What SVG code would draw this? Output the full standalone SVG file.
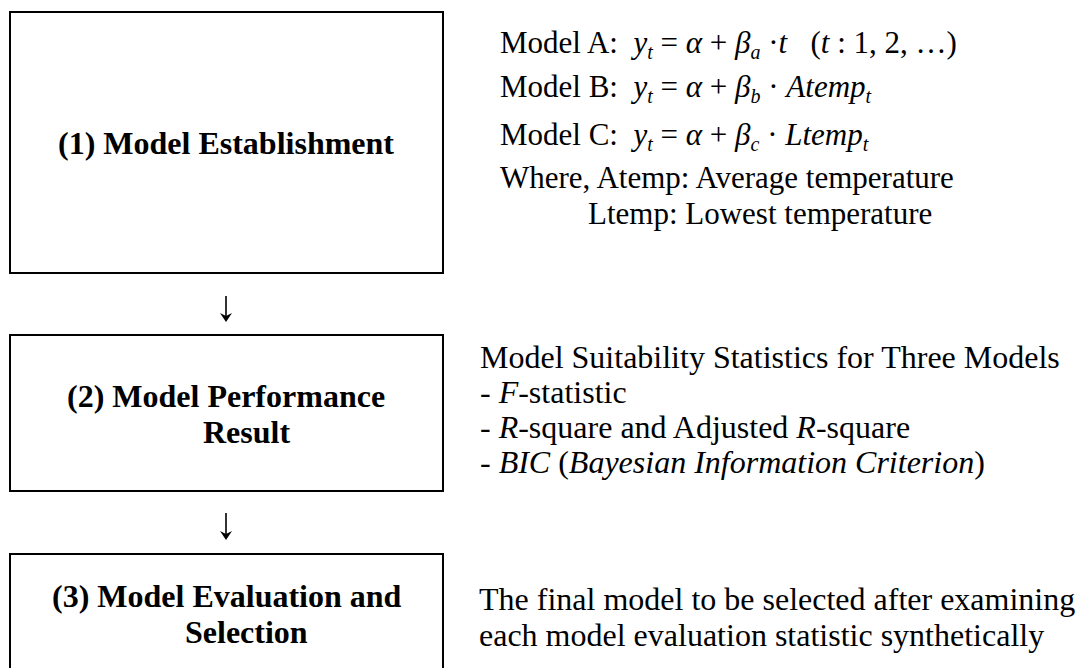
<svg xmlns="http://www.w3.org/2000/svg" width="1077" height="668" viewBox="0 0 1077 668">
<style>
.box{fill:#fff;stroke:#000;stroke-width:2}
.title{font-family:"Liberation Serif","Times New Roman",serif;font-size:32px;font-weight:bold;fill:#000}
.txt{font-family:"Liberation Serif","Times New Roman",serif;font-size:31px;fill:#000;white-space:pre}
.txt2{font-family:"Liberation Serif","Times New Roman",serif;font-size:32px;fill:#000;white-space:pre}
.i{font-style:italic}
.sub{font-style:italic;font-size:20px}
.conn{stroke:#000;stroke-width:1.6;fill:none}
.head{fill:#000;stroke:none}
</style>
<rect width="1077" height="668" fill="#fff"/>
<g id="node1">
<rect class="box" x="10" y="12" width="433" height="261"/>
<text class="title" x="58" y="154">(1) Model Establishment</text>
</g>
<g id="node2">
<rect class="box" x="10" y="335" width="433" height="156"/>
<text class="title" x="67" y="407">(2) Model Performance</text>
<text class="title" x="203" y="443">Result</text>
</g>
<g id="node3">
<rect class="box" x="10" y="554" width="433" height="140"/>
<text class="title" x="52" y="607">(3) Model Evaluation and</text>
<text class="title" x="185" y="643">Selection</text>
</g>
<g id="notes1">
<text class="txt" x="500" y="53">Model A:  <tspan class="i">y</tspan><tspan class="sub" dy="6">t</tspan><tspan dy="-6"> = </tspan><tspan class="i">α</tspan> + <tspan class="i">β</tspan><tspan class="sub" dy="6">a</tspan><tspan dy="-6"> ·</tspan><tspan class="i">t</tspan>   (<tspan class="i">t</tspan> : 1, 2, …)</text>
<text class="txt" x="500" y="97">Model B:  <tspan class="i">y</tspan><tspan class="sub" dy="6">t</tspan><tspan dy="-6"> = </tspan><tspan class="i">α</tspan> + <tspan class="i">β</tspan><tspan class="sub" dy="6">b</tspan><tspan dy="-6"> · </tspan><tspan class="i">Atemp</tspan><tspan class="sub" dy="6">t</tspan></text>
<text class="txt" x="500" y="145">Model C:  <tspan class="i">y</tspan><tspan class="sub" dy="6">t</tspan><tspan dy="-6"> = </tspan><tspan class="i">α</tspan> + <tspan class="i">β</tspan><tspan class="sub" dy="6">c</tspan><tspan dy="-6"> · </tspan><tspan class="i">Ltemp</tspan><tspan class="sub" dy="6">t</tspan></text>
<text class="txt" x="500" y="188">Where, Atemp: Average temperature</text>
<text class="txt" x="588" y="224">Ltemp: Lowest temperature</text>
</g>
<g id="notes2">
<text class="txt2" x="480" y="368">Model Suitability Statistics for Three Models</text>
<text class="txt2" x="480" y="403">- <tspan class="i">F</tspan>-statistic</text>
<text class="txt2" x="480" y="438">- <tspan class="i">R</tspan>-square and Adjusted <tspan class="i">R</tspan>-square</text>
<text class="txt2" x="480" y="473">- <tspan class="i">BIC</tspan> (<tspan class="i">Bayesian Information Criterion</tspan>)</text>
</g>
<g id="notes3">
<text class="txt2" x="479" y="610">The final model to be selected after examining</text>
<text class="txt2" x="479" y="646">each model evaluation statistic synthetically</text>
</g>
<g id="connectors">
<path class="conn" d="M226,296 V320"/>
<path class="head" d="M220,313 L226,322 L232,313 L226,316 Z"/>
<path class="conn" d="M226,513 V538"/>
<path class="head" d="M220,531 L226,540 L232,531 L226,534 Z"/>
</g>
</svg>
